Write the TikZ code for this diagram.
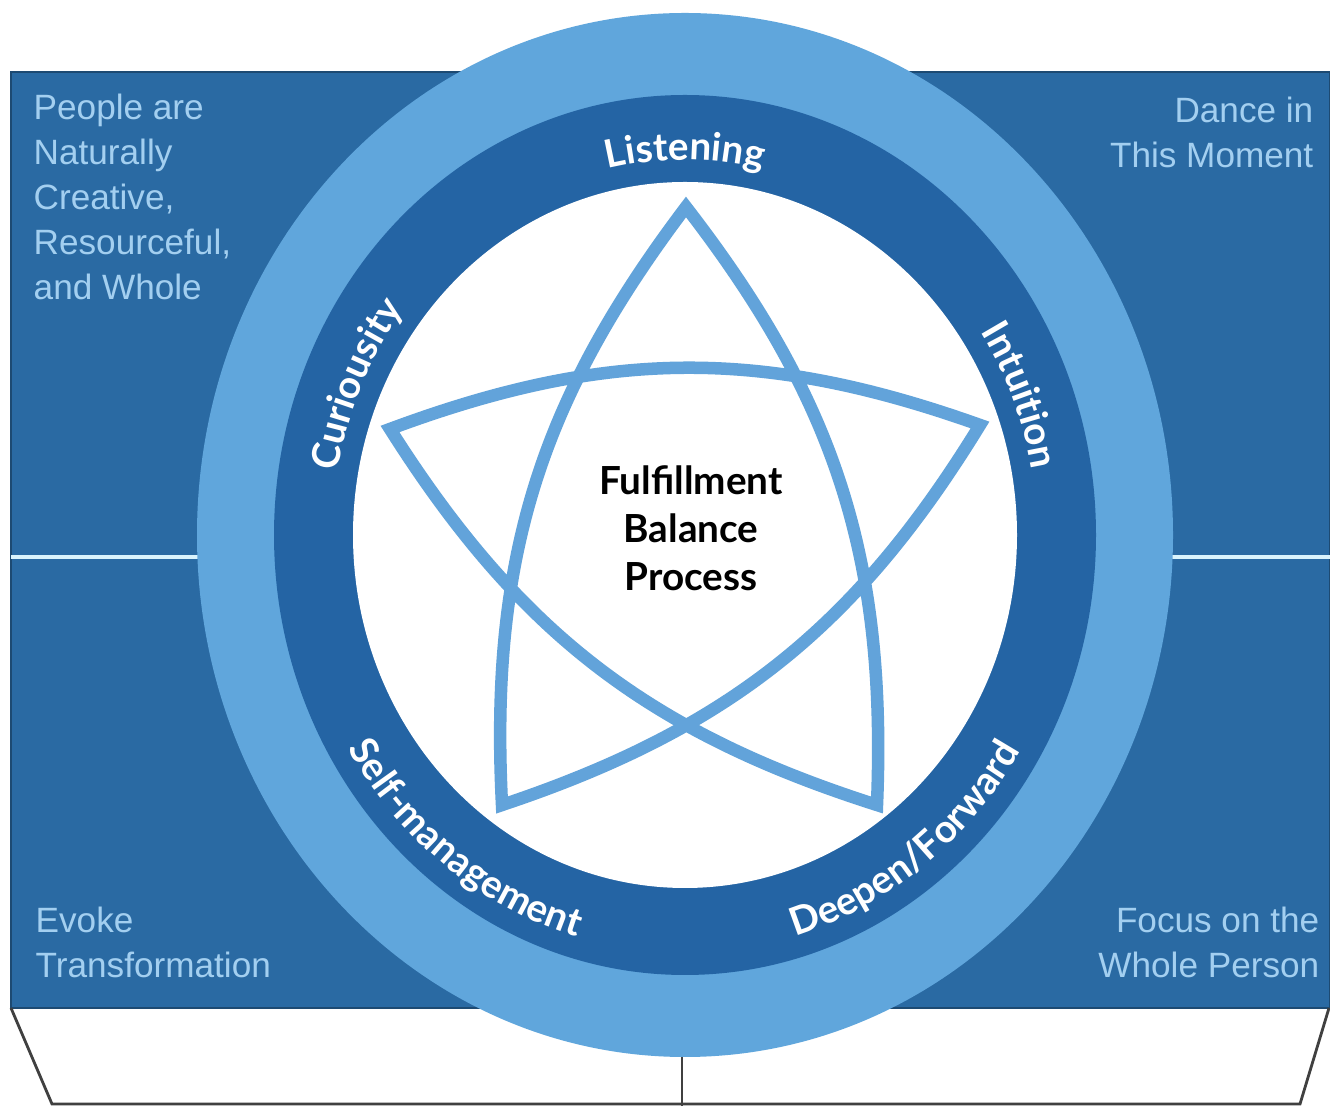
\documentclass[tikz,border=0pt]{standalone}
\usepackage{fontspec}
\setmainfont{Liberation Sans}
\newfontfamily\ringfont{Lato}
\usetikzlibrary{decorations.text}
\definecolor{panelblue}{RGB}{42,106,163}
\definecolor{ringlight}{RGB}{96,166,220}
\definecolor{ringdark}{RGB}{36,100,164}
\definecolor{starblue}{RGB}{98,163,218}
\definecolor{paletext}{RGB}{163,207,240}
\begin{document}
\begin{tikzpicture}[x=0.01cm, y=0.01cm,
  cornertext/.style={inner sep=0pt, text=paletext, font=\fontsize{10}{12.8}\selectfont},
  ringtext/.style={decorate, decoration={text along path, text align=center,
    text={|\ringfont\bfseries\fontsize{11}{11}\selectfont\color{white}|#1}}}]
  \useasboundingbox[fill=white] (0,0) rectangle (1330,1106);
  % panels
  \fill[panelblue, draw={panelblue!70!black}, line width=0.6pt] (11,98) rectangle (1330,1034);
  \draw[white!85!cyan, line width=1.1pt] (11,549) -- (1330,549);
  \coordinate (c) at (685,571);
  % rings
  \fill[ringlight] (c) ellipse [x radius=488, y radius=522];
  \fill[ringdark] (c) ellipse [x radius=411, y radius=440];
  \fill[white] (c) ellipse [x radius=332, y radius=353];
  % star
  \coordinate (top) at (686,899);
  \coordinate (left) at (390,677);
  \coordinate (right) at (980,681);
  \coordinate (bl) at (502,301);
  \coordinate (br) at (877,301);
  \draw[starblue, line width=0.125cm, line join=miter]
    (top) to[bend right=20] (bl) to[bend right=20] (right)
    to[bend right=20] (left) to[bend right=20] (br) to[bend right=20] cycle;
  \node[align=center, inner sep=0pt, font=\ringfont\bfseries\fontsize{11}{13.7}\selectfont] (core) at (691,578)
    {Fulfillment\\Balance\\Process};
  % ring labels
  \path[ringtext=Listening] (c) ++(135:352 and 375) arc[start angle=135, end angle=45, x radius=352, y radius=375];
  \path[ringtext=Curiousity] (c) ++(201:352 and 375) arc[start angle=201, end angle=111, x radius=352, y radius=375];
  \path[ringtext=Intuition] (c) ++(67:352 and 375) arc[start angle=67, end angle=-23, x radius=352, y radius=375];
  \path[ringtext=Self-management] (c) ++(188:392 and 418) arc[start angle=188, end angle=278, x radius=392, y radius=418];
  \path[ringtext=Deepen/Forward] (c) ++(262:392 and 418) arc[start angle=262, end angle=352, x radius=392, y radius=418];
  % corner texts
  \node[cornertext, anchor=north west, align=left] (people) at (33,1013)
    {People are\\Naturally\\Creative,\\Resourceful,\\and Whole};
  \node[cornertext, anchor=north east, align=right] (dance) at (1314,1010)
    {Dance in\\This Moment};
  \node[cornertext, anchor=north west, align=left] (evoke) at (35,200)
    {Evoke\\Transformation};
  \node[cornertext, anchor=north east, align=right] (focus) at (1320,200)
    {Focus on the\\Whole Person};
  % base
  \coordinate (p1) at (11,98);
  \coordinate (p2) at (52,2);
  \coordinate (p3) at (1300,2);
  \coordinate (p4) at (1329,98);
  \coordinate (m1) at (682,49);
  \coordinate (m2) at (682,0);
  \draw[black!75, line width=0.8pt] (p1) -- (p2) -- (p3) -- (p4);
  \draw[black!75, line width=0.8pt] (m1) -- (m2);
\end{tikzpicture}
\end{document}
